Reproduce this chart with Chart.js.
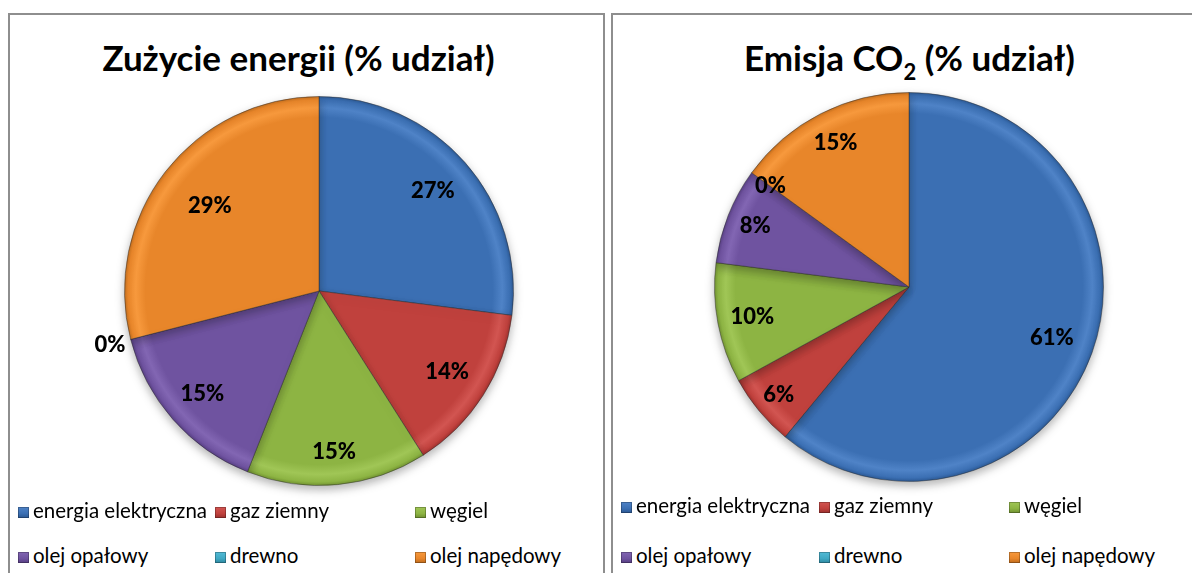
<!DOCTYPE html>
<html><head><meta charset="utf-8">
<script src="https://cdn.jsdelivr.net/npm/chart.js@4/dist/chart.umd.min.js"></script>
<style>
html,body{margin:0;padding:0;background:#fff;width:1192px;height:573px;overflow:hidden;font-family:Lato,"Open Sans",sans-serif;}
.panel{position:absolute;top:13px;height:600px;border:2px solid #8e8e8e;box-sizing:border-box;background:#fff;}
.title{position:absolute;text-align:center;font-weight:bold;font-size:35px;color:#000;white-space:nowrap;}
.title sub{font-size:22px;vertical-align:-9px;line-height:0;}
.cv{position:absolute;}
.leg{position:absolute;font-size:20.5px;color:#000;white-space:nowrap;line-height:20px;}
.leg i{display:inline-block;width:11px;height:11px;margin-right:4px;vertical-align:0px;box-shadow:inset 0 0 0 1px rgba(0,0,0,0.25);}
</style></head>
<body>
<div class="panel" id="pL" style="left:8px;width:597px;"></div>
<div class="panel" id="pR" style="left:611px;width:600px;"></div>
<div class="title" style="left:0px;width:597px;top:36px;">Zużycie energii (% udział)</div>
<div class="title" style="left:611px;width:597px;top:36px;">Emisja CO<sub>2</sub> (% udział)</div>
<div class="cv" style="left:89px;top:61px;width:460px;height:460px;"><canvas id="cL"></canvas></div>
<div class="cv" style="left:679px;top:57px;width:460px;height:460px;"><canvas id="cR"></canvas></div>
<div id="legL"></div>
<div id="legR"></div>
<script>
// ---- data ----
const categories = ["energia elektryczna","gaz ziemny","węgiel","olej opałowy","drewno","olej napędowy"];
const energyShare = [27,14,15,15,0,29];
const co2Share = [61,6,10,8,0,15];
const titleEnergy = "Zużycie energii (% udział)";
const titleCo2 = "Emisja CO₂ (% udział)";

const colors = ["#3b6fb3","#c0413d","#8db443","#6f53a0","#3fa8c3","#e8862a"];
const lightColors = ["#4f83c7","#d25551","#a0c656","#8266b3","#52bbd6","#f7993d"];
const darkColors = ["#2a5690","#98302d","#6e8e30","#553d80","#2d869e","#bc6a1d"];

function sliceFill(c){
  const ch=c.chart, i=c.dataIndex;
  const a=ch.chartArea; if(!a) return colors[i];
  const cx=(a.left+a.right)/2, cy=(a.top+a.bottom)/2;
  const meta=ch.getDatasetMeta(0); const r=(meta.data[i]&&meta.data[i].outerRadius)||195;
  const g=ch.ctx.createRadialGradient(cx,cy,0,cx,cy,r);
  g.addColorStop(0,colors[i]); g.addColorStop(0.89,colors[i]);
  g.addColorStop(0.94,lightColors[i]); g.addColorStop(0.98,colors[i]); g.addColorStop(1,darkColors[i]);
  return g;
}

const labelPlugin={
  id:'pctLabels',
  beforeDatasetsDraw(ch){ const ctx=ch.ctx; ctx.save(); ctx.shadowColor='rgba(0,0,0,0.3)'; ctx.shadowBlur=10; ctx.shadowOffsetY=4; },
  afterDatasetsDraw(ch,args,opts){
    const ctx=ch.ctx; ctx.restore(); ctx.save();
    const meta=ch.getDatasetMeta(0); const data=ch.data.datasets[0].data;
    ctx.font='900 22px Lato, "Open Sans", sans-serif'; ctx.fillStyle='#000';
    ctx.textAlign='center'; ctx.textBaseline='middle';
    meta.data.forEach((arc,i)=>{
      const p=arc.getProps(['x','y','startAngle','endAngle','outerRadius'],true);
      const mid=(p.startAngle+p.endAngle)/2; const f=opts.radius[i];
      ctx.fillText(data[i]+'%', p.x+Math.cos(mid)*p.outerRadius*f, p.y+Math.sin(mid)*p.outerRadius*f);
    });
    ctx.restore();
  }
};

function makePie(id,values,title,radius){
  new Chart(document.getElementById(id),{
    type:'pie',
    data:{labels:categories,datasets:[{data:values,backgroundColor:sliceFill,borderColor:'rgba(40,40,40,0.45)',borderWidth:1}]},
    options:{responsive:true,maintainAspectRatio:false,animation:false,
      layout:{padding:35},
      plugins:{legend:{display:false},title:{display:false,text:title},tooltip:{enabled:false},pctLabels:{radius:radius}}},
    plugins:[labelPlugin]
  });
}
makePie('cL',energyShare,titleEnergy,[0.78,0.78,0.83,0.80,1.11,0.71]);
makePie('cR',co2Share,titleCo2,[0.78,0.87,0.82,0.85,0.88,0.83]);

function makeLegend(id,cols,rows){
  const el=document.getElementById(id);
  categories.forEach((c,i)=>{
    const d=document.createElement('div'); d.className='leg';
    d.style.left=cols[i%3]+'px'; d.style.top=rows[Math.floor(i/3)]+'px';
    d.innerHTML='<i style="background:linear-gradient(180deg,'+lightColors[i]+','+colors[i]+' 60%,'+darkColors[i]+')"></i>'+c;
    el.appendChild(d);
  });
}
makeLegend('legL',[18,215,415],[500,545]);
makeLegend('legR',[621,819,1009],[495,545]);
</script>
</body></html>
